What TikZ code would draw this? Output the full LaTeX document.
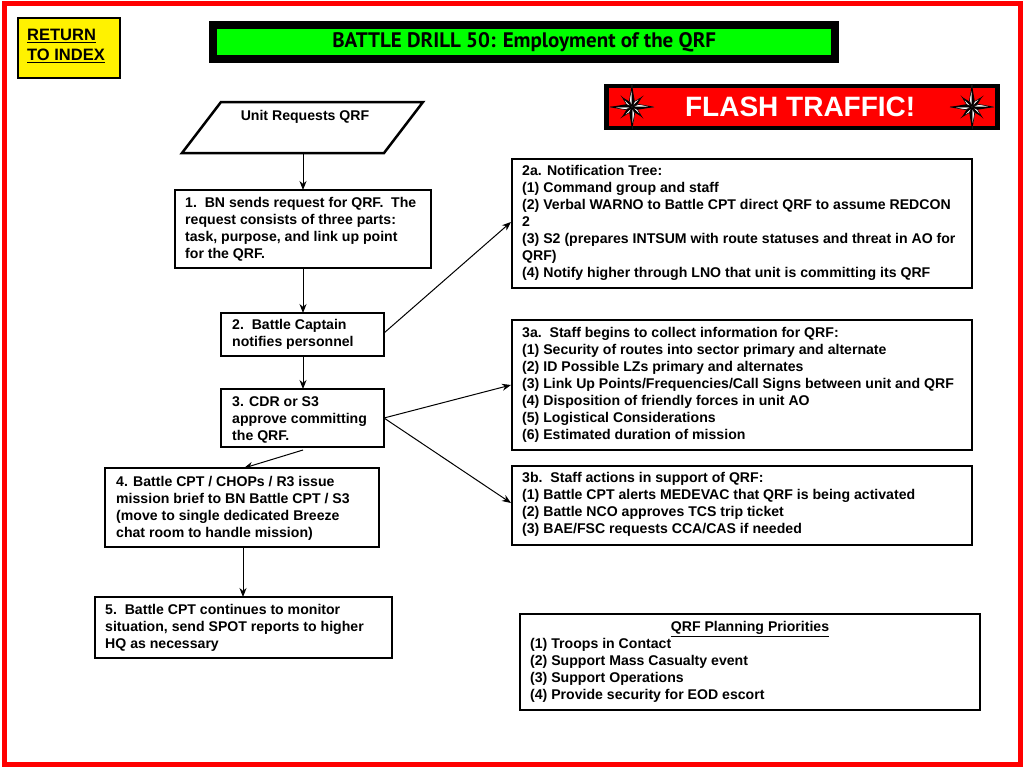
\documentclass[tikz,border=0pt]{standalone}
\usepackage{fontspec}
\setmainfont{Liberation Sans}
\newfontfamily\titlefont{PT Sans}
\usetikzlibrary{arrows.meta,shapes.geometric}
\begin{document}
\begin{tikzpicture}[x=1pt,y=-1pt,
 txt/.style={font=\bfseries\fontsize{14.1}{17}\selectfont,align=left,anchor=north west,inner sep=0pt},
 frame/.style={line width=1.2pt},
 arr/.style={-{Stealth[length=9pt,width=7pt]},line width=1pt}]
\useasboundingbox (0,0) rectangle (1024,768);
\fill[white] (0,0) rectangle (1024,768);
\draw[red,line width=5pt] (4,4) rectangle (1020,764);
% return
\node[draw=black,line width=2pt,fill=yellow,minimum width=102pt,minimum height=60pt,anchor=north west] (ret) at (17,17) {};
\node[font=\bfseries\fontsize{16.5}{20}\selectfont,align=left,anchor=north west,inner sep=0pt] (rett) at (27,29) {\underline{RETURN}\\\underline{TO INDEX}};
% title
\node[fill=black,minimum width=630pt,minimum height=42pt,anchor=north west,inner sep=0pt] (tbg) at (209,21) {};
\node[fill=green,minimum width=614pt,minimum height=26pt,anchor=north west,inner sep=0pt,font=\titlefont\bfseries\fontsize{21}{22}\selectfont] (title) at (217,29) {BATTLE DRILL 50: Employment of the QRF};
% flash
\node[fill=black,minimum width=396pt,minimum height=46pt,anchor=north west,inner sep=0pt] (fbg) at (604,84) {};
\node[fill=red,minimum width=386pt,minimum height=38pt,anchor=north west,inner sep=0pt,text=white,font=\bfseries\fontsize{28}{30}\selectfont] (flash) at (609,88) {\hspace{-4pt}FLASH TRAFFIC!};
\foreach \cx in {632,972}{
 \begin{scope}[shift={(\cx,107)}]
  \foreach \a in {45,135,225,315}{
   \fill[white,draw=black,line width=0.6pt] (0,0) -- (\a-20:6) -- (\a:14) -- cycle;
   \fill[black] (0,0) -- (\a+20:6) -- (\a:14) -- cycle;}
  \foreach \a in {0,90,180,270}{
   \fill[white,draw=black,line width=0.6pt] (0,0) -- (\a-22:7) -- (\a:22) -- cycle;
   \fill[black] (0,0) -- (\a+22:7) -- (\a:22) -- cycle;}
 \end{scope}}
% parallelogram
\draw[line width=2.5pt,fill=white] (182,153) -- (221,102) -- (423,102) -- (384,153) -- cycle;
\node[txt,anchor=center] (p) at (305,117) {Unit Requests QRF};
\coordinate (pb) at (303,154);
% left boxes
\draw[frame] (175,190) rectangle (431,268);
\node[txt] (b1) at (185,197) {1.\ \ BN sends request for QRF.\ \ The\\request consists of three parts:\\task, purpose, and link up point\\for the QRF.};
\coordinate (b1t) at (303,190); \coordinate (b1b) at (303,268);
\draw[frame] (221,313) rectangle (384,356);
\node[txt] (b2) at (232,319) {2.\ \ Battle Captain\\notifies personnel};
\coordinate (b2t) at (303,313); \coordinate (b2b) at (303,356); \coordinate (b2r) at (384,333);
\draw[frame] (221,389) rectangle (384,447);
\node[txt] (b3) at (232,396) {3. CDR or S3\\approve committing\\the QRF.};
\coordinate (b3t) at (303,389); \coordinate (b3b) at (303,450); \coordinate (b3r) at (384,418);
\draw[frame] (105,468) rectangle (379,547);
\node[txt] (b4) at (116,476) {4. Battle CPT / CHOPs / R3 issue\\mission brief to BN Battle CPT / S3\\(move to single dedicated Breeze\\chat room to handle mission)};
\coordinate (b4t) at (244,468); \coordinate (b4b) at (243,547);
\draw[frame] (95,597) rectangle (392,658);
\node[txt] (b5) at (105,604) {5.\ \ Battle CPT continues to monitor\\situation, send SPOT reports to higher\\HQ as necessary};
\coordinate (b5t) at (243,597);
% right boxes
\draw[frame] (512,159) rectangle (972,288);
\node[txt] (r2a) at (522,165) {2a. Notification Tree:\\(1) Command group and staff\\(2) Verbal WARNO to Battle CPT direct QRF to assume REDCON\\2\\(3) S2 (prepares INTSUM with route statuses and threat in AO for\\QRF)\\(4) Notify higher through LNO that unit is committing its QRF};
\coordinate (r2al) at (511,222);
\draw[frame] (512,320) rectangle (972,450);
\node[txt] (r3a) at (522,327) {3a.\ \ Staff begins to collect information for QRF:\\(1) Security of routes into sector primary and alternate\\(2) ID Possible LZs primary and alternates\\(3) Link Up Points/Frequencies/Call Signs between unit and QRF\\(4) Disposition of friendly forces in unit AO\\(5) Logistical Considerations\\(6) Estimated duration of mission};
\coordinate (r3al) at (511,385);
\draw[frame] (512,466) rectangle (972,545);
\node[txt] (r3b) at (522,472) {3b.\ \ Staff actions in support of QRF:\\(1) Battle CPT alerts MEDEVAC that QRF is being activated\\(2) Battle NCO approves TCS trip ticket\\(3) BAE/FSC requests CCA/CAS if needed};
\coordinate (r3bl) at (511,503);
\draw[frame] (520,614) rectangle (980,710);
\node[txt,anchor=north] (qh) at (750,621) {\underline{QRF Planning Priorities}};
\node[txt] (q) at (530,638) {(1) Troops in Contact\\(2) Support Mass Casualty event\\(3) Support Operations\\(4) Provide security for EOD escort};
% arrows
\draw[arr] (pb) -- (b1t);
\draw[arr] (b1b) -- (b2t);
\draw[arr] (b2b) -- (b3t);
\draw[arr] (b3b) -- (b4t);
\draw[arr] (b4b) -- (b5t);
\draw[arr] (b2r) -- (r2al);
\draw[arr] (b3r) -- (r3al);
\draw[arr] (b3r) -- (r3bl);
\end{tikzpicture}
\end{document}
